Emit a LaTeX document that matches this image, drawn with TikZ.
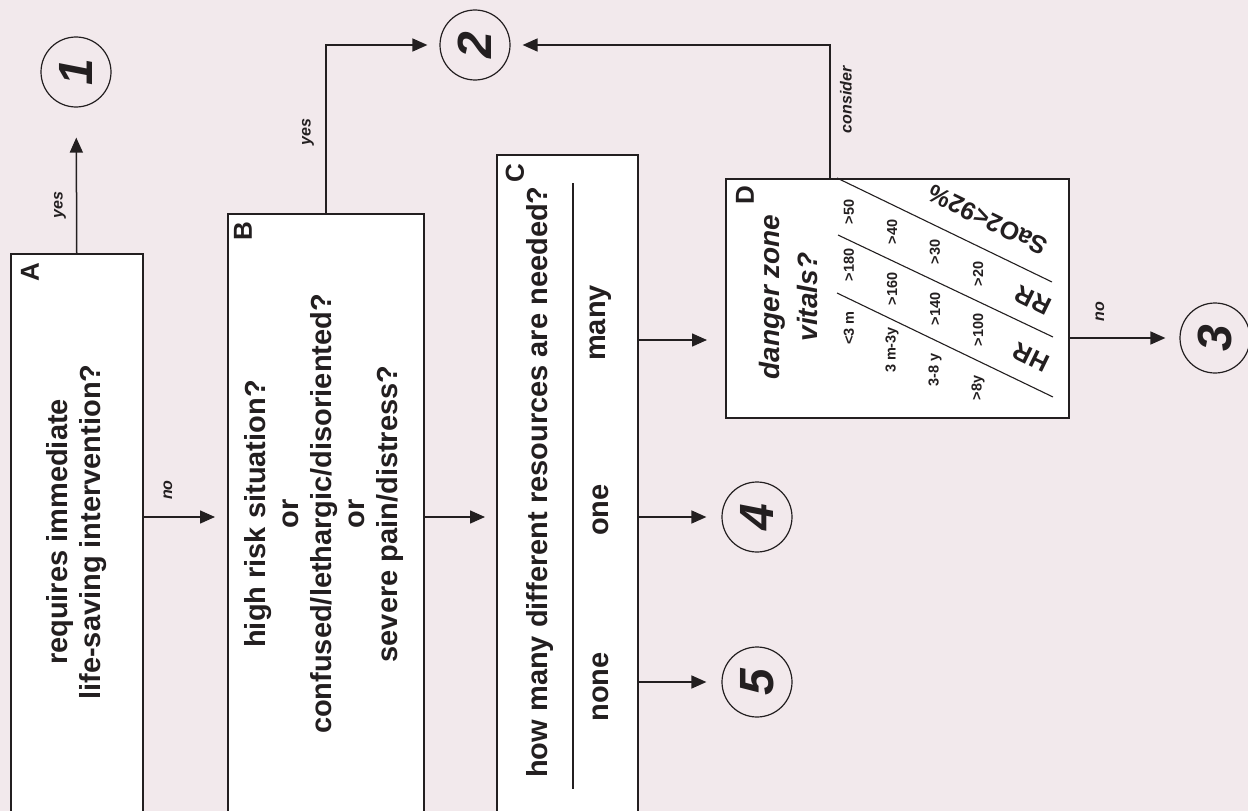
\documentclass[tikz,border=0pt]{standalone}
\usepackage{fontspec}
\setmainfont{Liberation Sans}
\usetikzlibrary{arrows.meta,calc}
\definecolor{bgpink}{RGB}{242,233,236}
\definecolor{ink}{RGB}{35,31,32}
\begin{document}
\begin{tikzpicture}[x=1bp,y=-1bp,
  box/.style={draw=ink, fill=white, line width=1.5bp, rectangle, inner sep=0pt},
  numc/.style={draw=ink, circle, line width=1.2bp, minimum size=70bp, inner sep=0pt, rotate=90, text=ink,
     font=\bfseries\itshape\fontsize{48bp}{48bp}\selectfont},
  arr/.style={-{Triangle[length=15bp,width=13bp]}, line width=1.5bp, draw=ink},
  ln/.style={line width=1.4bp, draw=ink},
  txt/.style={rotate=90, align=center, text=ink, inner sep=0pt, font=\bfseries\fontsize{29bp}{33bp}\selectfont},
  dtxt/.style={rotate=90, align=center, text=ink, inner sep=0pt, font=\bfseries\itshape\fontsize{28bp}{38bp}\selectfont},
  lett/.style={rotate=90, text=ink, inner sep=0pt, font=\bfseries\fontsize{26bp}{26bp}\selectfont},
  lbl/.style={rotate=90, text=ink, inner sep=0pt, font=\bfseries\itshape\fontsize{16bp}{16bp}\selectfont},
  vit/.style={rotate=90, text=ink, inner sep=0pt, font=\bfseries\fontsize{14.5bp}{14.5bp}\selectfont},
  hdr/.style={rotate=154, text=ink, inner sep=0pt, font=\bfseries\fontsize{25bp}{25bp}\selectfont}
]
\useasboundingbox (0,0) rectangle (1248,811);
\fill[bgpink] (0,0) rectangle (1248,811);
\clip (0,0) rectangle (1248,811);

% boxes
\node[box, minimum width=132bp, minimum height=580bp, anchor=north west] (A) at (10,253) {};
\node[box, minimum width=196bp, minimum height=620bp, anchor=north west] (B) at (227,213) {};
\node[box, minimum width=141bp, minimum height=680bp, anchor=north west] (C) at (496,154) {};
\node[box, minimum width=343bp, minimum height=239bp, anchor=north west] (D) at (725,178) {};

% circles
\node[numc] (c1) at (76,72) {1};
\node[numc] (c2) at (475,45) {2};
\node[numc] (c3) at (1215,338) {3};
\node[numc] (c4) at (757,517) {4};
\node[numc] (c5) at (757,682) {5};

% box letters
\node[lett] (lA) at (30,272) {A};
\node[lett] (lB) at (243,231) {B};
\node[lett] (lC) at (515,173) {C};
\node[lett] (lD) at (745,195) {D};

% texts
\node[txt] (tA) at (77,532) {requires immediate\\life-saving intervention?};
\node[txt] (tB) at (324,514) {high risk situation?\\or\\confused/lethargic/disoriented?\\or\\severe pain/distress?};
\node[txt] (tC) at (540,482) {how many different resources are needed?};
\draw[ln] (573,183) -- (573,789);
\node[txt] (many) at (601,323) {many};
\node[txt] (one) at (601,510) {one};
\node[txt] (none) at (601,687) {none};
\node[dtxt] (tD) at (788,297) {danger zone\\vitals?};

% vitals table
\draw[ln, line width=1.1bp] (837,178) -- (1052,282);
\draw[ln, line width=1.1bp] (838,235) -- (1053,337);
\draw[ln, line width=1.1bp] (837,293) -- (1053,397);
\node[vit] (v11) at (849,212) {>50};
\node[vit] (v12) at (849,265) {>180};
\node[vit] (v13) at (849,328) {<3 m};
\node[vit] (v21) at (892,232) {>40};
\node[vit] (v22) at (892,289) {>160};
\node[vit] (v23) at (892,350) {3 m-3y};
\node[vit] (v31) at (935,252) {>30};
\node[vit] (v32) at (935,309) {>140};
\node[vit] (v33) at (935,370) {3-8 y};
\node[vit] (v41) at (978,274) {>20};
\node[vit] (v42) at (978,330) {>100};
\node[vit] (v43) at (978,388) {>8y};
\node[hdr] (hS) at (988,220) {SaO2<92\%};
\node[hdr] (hR) at (1033,300) {RR};
\node[hdr] (hH) at (1031,357) {HR};

% connectors
\coordinate (yno) at (0,517);
\coordinate (ymany) at (0,340);
\coordinate (dtop) at (830,178);
\draw[arr, shorten >=30bp] (A.north) -- (c1);
\draw[arr, shorten >=12bp] (A.east |- yno) -- (B.west |- yno);
\draw[arr, shorten >=12bp] (B.north) |- (c2);
\draw[arr, shorten >=11bp] (B.east |- yno) -- (C.west |- yno);
\draw[arr, shorten >=18bp] (C.east |- ymany) -- (D.west |- ymany);
\draw[arr, shorten >=15bp] (C.east |- c4) -- (c4);
\draw[arr, shorten >=15bp] (C.east |- c5) -- (c5);
\draw[arr, shorten >=12bp] (dtop) |- (c2);
\draw[arr, shorten >=14bp] (D.east |- c3) -- (c3);

% connector labels
\node[lbl] (yA) at (60,205) {yes};
\node[lbl] (yB) at (308,132) {yes};
\node[lbl] (nA) at (168,490) {no};
\node[lbl] (cD) at (846,100) {consider};
\node[lbl] (nD) at (1100,312) {no};
\end{tikzpicture}
\end{document}
